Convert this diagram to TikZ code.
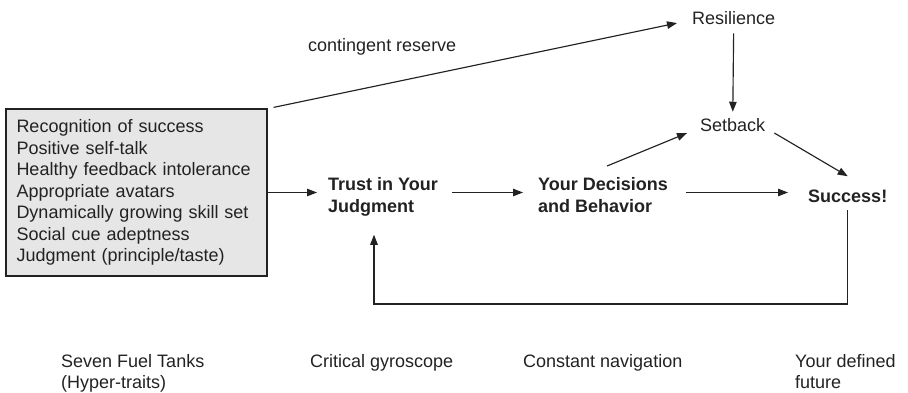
\documentclass[tikz,border=0pt]{standalone}
\usepackage{fontspec}
\setmainfont{Liberation Sans}
\usetikzlibrary{arrows.meta}
\definecolor{ink}{HTML}{222222}
\definecolor{tankfill}{HTML}{E6E6E6}
\begin{document}
\begin{tikzpicture}[x=1pt,y=-1pt,
  every node/.style={inner sep=0pt, text=ink, font=\fontsize{18}{22}\selectfont},
  arr/.style={draw=ink, line width=1.15pt, -{Triangle[length=10pt,width=7.5pt]}},
  tank/.style={draw=ink, line width=1.2pt, fill=tankfill, minimum width=261pt, minimum height=167pt, text width=240pt, align=left, font=\fontsize{18}{21.5}\selectfont},
  keynode/.style={font=\bfseries\fontsize{18}{22.5}\selectfont, align=left, anchor=north west},
  plain/.style={anchor=base west},
  caption/.style={align=left, anchor=north west, font=\fontsize{18}{21}\selectfont}]
\useasboundingbox (0,0) rectangle (908,393);

\node[tank] (tanks) at (136.5,192.5) {Recognition of success\\Positive self-talk\\Healthy feedback intolerance\\Appropriate avatars\\Dynamically growing skill set\\Social cue adeptness\\Judgment (principle/taste)};

\node[keynode] (trust) at (328,177) {Trust in Your\\Judgment};
\node[keynode] (decisions) at (538,177) {Your Decisions\\and Behavior};
\node[plain, font=\bfseries\fontsize{18}{22}\selectfont] (success) at (808,202) {Success!};
\node[plain] (setback) at (700,132) {Setback};
\node[plain] (resilience) at (692,25) {Resilience};
\node[plain] (creserve) at (308,52) {contingent reserve};

\node[caption] (captanks) at (61,354) {Seven Fuel Tanks\\(Hyper-traits)};
\node[caption] (capgyro) at (310,354) {Critical gyroscope};
\node[caption] (capnav) at (523,354) {Constant navigation};
\node[caption] (capfuture) at (795,354) {Your defined\\future};

\coordinate (loopbot) at (0,304);

% main chain
\draw[arr, shorten >=11pt] (tanks.east) -- (tanks.east -| trust.west);
\draw[arr, shorten <=14pt, shorten >=15pt] (trust.east |- tanks.east) -- (decisions.west |- tanks.east);
\draw[arr, shorten <=18pt, shorten >=20pt] (decisions.east |- tanks.east) -- (success.west |- tanks.east);

% upper branch
\draw[arr] ([xshift=6pt,yshift=1pt]tanks.north east) -- ([xshift=-15pt,yshift=-4.5pt]resilience.west);
\draw[arr, shorten <=8pt, shorten >=7pt] (resilience.south) -- (setback.north);
\draw[arr] ([xshift=4pt,yshift=11pt]decisions.north) -- ([xshift=-13pt,yshift=-7.5pt]setback.west);
\draw[arr] ([xshift=9pt,yshift=-7.5pt]setback.east) -- ([yshift=13pt]success.north);

% feedback loop
\draw[arr] ([yshift=-8pt]success.south) -- (success.south |- loopbot) -| ([xshift=46pt,yshift=-18pt]trust.south west);
\end{tikzpicture}
\end{document}
